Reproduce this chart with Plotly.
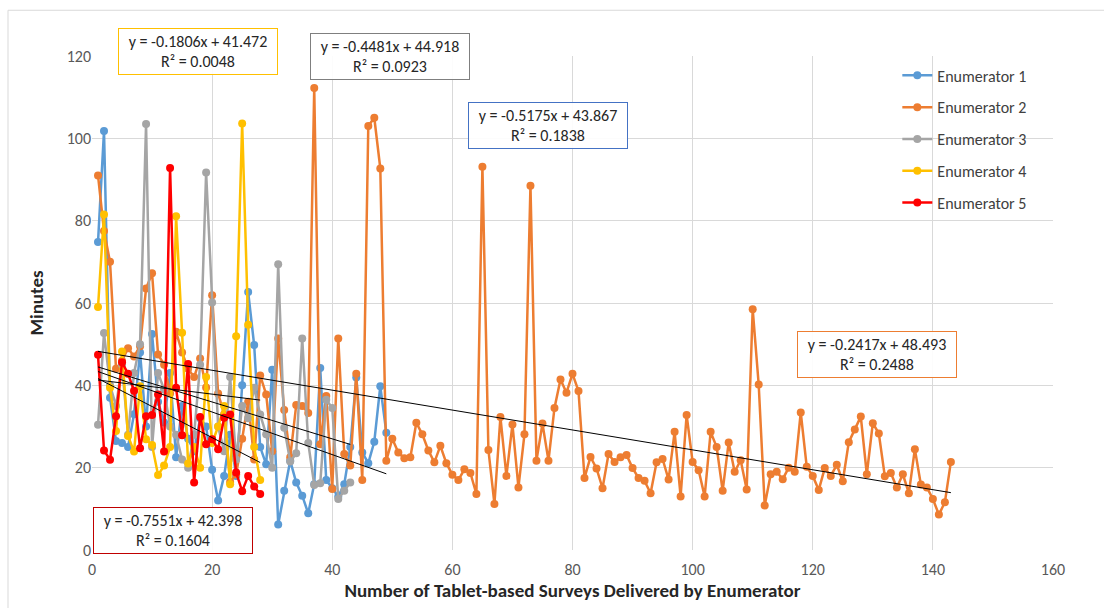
import plotly.graph_objects as go

# ---------------- data ----------------
enum1 = [74.8, 101.8, 37, 26.5, 26, 25, 33, 48, 30, 52.5, 36, 31, 43, 22.5, 35, 27, 24, 32, 30, 19.5,
         12, 18, 28, 18, 40, 62.7, 49.8, 25, 20.8, 43.8, 6.2, 14.4, 21.7, 16.4, 13.2, 8.9, 16, 44.2, 17, 15,
         13, 16, 25, 41.9, 23.7, 21.1, 26.3, 39.8, 28.5]
enum2 = [91.0, 77.5, 70.0, 44.0, 46.0, 49.0, 47.0, 49.5, 63.5, 67.2, 47.5, 45.0, 38.0, 53.0, 48.0, 44.0, 42.0, 46.5, 39.5, 61.9,
         38.0, 33.0, 16.5, 18.4, 27.0, 36.0, 22.0, 42.4, 37.8, 24.0, 51.4, 34.0, 22.5, 35.2, 35.0, 33.3, 112.2, 25.7, 37.4, 14.8,
         51.4, 23.3, 20.5, 42.8, 17.0, 103.0, 105.0, 92.7, 21.7, 27.0, 23.7, 22.3, 22.5, 30.9, 28.1, 24.2, 21.3, 25.3, 21.1, 18.3,
         17.0, 19.6, 18.7, 13.6, 93.1, 24.3, 11.2, 32.3, 18.0, 30.5, 15.2, 28.1, 88.5, 21.7, 30.7, 21.7, 34.5, 41.4, 38.2, 42.8,
         38.6, 17.5, 22.6, 19.8, 15.0, 23.3, 21.4, 22.5, 23.1, 19.9, 17.5, 16.8, 13.8, 21.3, 22.1, 17.1, 28.7, 13.0, 32.8, 21.4,
         19.4, 13.0, 28.7, 25.0, 14.4, 26.1, 19.0, 21.8, 14.7, 58.5, 40.2, 10.8, 18.4, 19.0, 17.2, 20.0, 19.0, 33.4, 20.2, 18.0,
         14.6, 19.9, 18.0, 20.7, 16.7, 26.2, 29.3, 32.4, 18.4, 30.8, 28.3, 17.9, 18.7, 15.2, 18.4, 13.8, 24.5, 15.9, 15.2, 12.4,
         8.6, 11.6, 21.4]
enum3 = [30.4, 52.7, 40, 35, 45, 28, 43, 50, 103.5, 25, 43, 39, 30, 28, 22, 20, 28, 45, 91.7, 60.1,
         30, 24, 42, 22, 35, 32, 39.4, 32.9, 28.1, 20, 69.4, 29.7, 21.5, 23.5, 51.4, 26, 15.8, 16.2, 36.5, 34.5,
         12.4, 14.4, 16.4]
enum4 = [59, 81.5, 39.4, 28.9, 48.2, 27.7, 23.9, 39.8, 26.9, 25.5, 18.2, 20.5, 25, 81.1, 52.8, 21, 25, 20, 42, 26,
         30, 35, 16, 51.9, 103.6, 54.7, 25, 17]
enum5 = [47.4, 24.2, 21.9, 32.5, 45.6, 42.8, 38.7, 24.7, 32.5, 32.8, 37.8, 23.9, 92.8, 39.4, 27.9, 45.2, 16.4, 32.3, 25.7, 26.9,
         24.5, 32.1, 32.9, 18.8, 14.3, 18.0, 15.4, 13.6]

names = ["Enumerator 1", "Enumerator 2", "Enumerator 3", "Enumerator 4", "Enumerator 5"]
series = [enum1, enum2, enum3, enum4, enum5]
colors = ["#5B9BD5", "#ED7D31", "#A5A5A5", "#FFC000", "#FF0000"]

# linear trendline coefficients (as printed on chart)
slopes = [-0.5175, -0.2417, -0.4481, -0.1806, -0.7551]
intercepts = [43.867, 48.493, 44.918, 41.472, 42.398]
r2 = ["0.1838", "0.2488", "0.0923", "0.0048", "0.1604"]
box_colors = ["#4472C4", "#ED7D31", "#7F7F7F", "#FFC000", "#C00000"]
# label box centres, in paper fractions of the plot area
box_px = [0.4745, 0.8168, 0.3096, 0.1103, 0.0843]
box_py = [0.8592, 0.3954, 1.0000, 1.0101, 0.0402]

x_ticks = [0, 20, 40, 60, 80, 100, 120, 140, 160]
y_ticks = [0, 20, 40, 60, 80, 100, 120]

FONT = "Carlito, Lato, 'Open Sans', sans-serif"

fig = go.Figure()
for i, (nm, ys, c) in enumerate(zip(names, series, colors)):
    xs = list(range(1, len(ys) + 1))
    fig.add_trace(go.Scatter(
        x=xs, y=ys, name=nm, mode="lines+markers",
        line=dict(color=c, width=2.5),
        marker=dict(color=c, size=8),
        legendgroup=nm,
    ))

for i, ys in enumerate(series):
    x0, x1 = 1, len(ys)
    fig.add_trace(go.Scatter(
        x=[x0, x1], y=[slopes[i] * x0 + intercepts[i], slopes[i] * x1 + intercepts[i]],
        mode="lines", line=dict(color="#000000", width=1), showlegend=False, hoverinfo="skip",
    ))

for i in range(5):
    txt = f"y = {slopes[i]:.4f}x + {intercepts[i]:.3f}<br>R² = {r2[i]}"
    fig.add_annotation(
        x=box_px[i], y=box_py[i], xref="paper", yref="paper", text=txt, showarrow=False,
        xanchor="center", yanchor="middle",
        font=dict(family=FONT, size=16, color="#262626"),
        bordercolor=box_colors[i], borderwidth=1, borderpad=2,
        bgcolor="rgba(255,255,255,0.9)", width=154, height=41, align="center",
    )

# outer chart-area border
fig.add_shape(type="rect", xref="paper", yref="paper", x0=-0.0874, x1=1.06, y0=-0.14, y1=1.0926,
              line=dict(color="#D9D9D9", width=1), fillcolor="rgba(0,0,0,0)", layer="below")

fig.update_layout(
    width=1104, height=608,
    margin=dict(l=92, r=51, t=56, b=55),
    paper_bgcolor="white", plot_bgcolor="white",
    font=dict(family=FONT, size=15, color="#595959"),
    showlegend=True,
    legend=dict(x=0.838, y=0.995, xanchor="left", yanchor="top",
                font=dict(family=FONT, size=16, color="#404040"),
                bgcolor="rgba(0,0,0,0)", tracegroupgap=8, itemwidth=30),
    xaxis=dict(range=[0, 160], tickvals=x_ticks, showgrid=True, gridcolor="#D9D9D9", gridwidth=1,
               zeroline=False, showline=False, ticks="", ticklabelstandoff=8,
               tickfont=dict(family=FONT, size=16, color="#595959"),
               title=dict(text="<b>Number of Tablet-based Surveys Delivered by Enumerator</b>",
                          font=dict(family=FONT, size=19, color="#262626"), standoff=4)),
    yaxis=dict(range=[0, 120], tickvals=y_ticks, showgrid=True, gridcolor="#D9D9D9", gridwidth=1,
               zeroline=False, showline=False, ticks="",
               tickfont=dict(family=FONT, size=16, color="#595959"),
               title=dict(text="<b>Minutes</b>", font=dict(family=FONT, size=19, color="#262626"), standoff=18)),
)

fig.write_html("out.html")
